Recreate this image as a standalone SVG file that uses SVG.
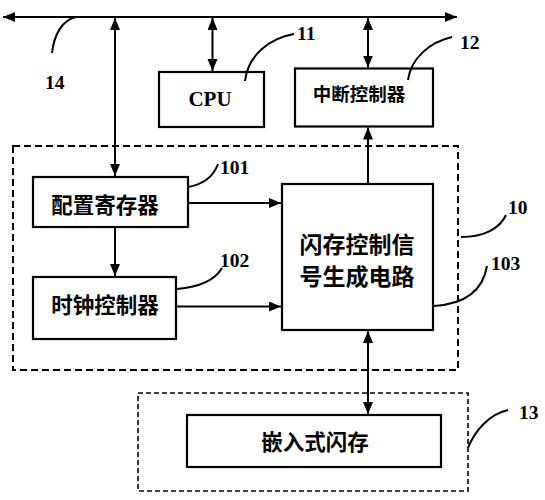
<svg xmlns="http://www.w3.org/2000/svg" width="545" height="500" viewBox="0 0 545 500">
<style>
.box{fill:#fff;stroke:#000;stroke-width:2.2}
.dash1{fill:none;stroke:#000;stroke-width:2;stroke-dasharray:7 4}
.dash2{fill:none;stroke:#000;stroke-width:1.6;stroke-dasharray:5 3}
.ln{fill:none;stroke:#000;stroke-width:2}
.ld{fill:none;stroke:#000;stroke-width:2}
.cjk{font-family:"Noto Sans CJK SC","Noto Sans CJK JP",sans-serif;font-weight:bold;fill:#000;text-anchor:middle;dominant-baseline:central}
.num{font-family:"Liberation Serif","Times New Roman",serif;font-weight:bold;font-size:19.5px;fill:#000}
</style>
<defs>
<marker id="ah" markerUnits="userSpaceOnUse" markerWidth="14" markerHeight="12" refX="12" refY="5" orient="auto-start-reverse">
<path d="M0,0 L12,5 L0,10 Z" fill="#000"/>
</marker>
</defs>
<rect id="group10" class="dash1" x="13" y="146" width="445" height="224"/>
<rect id="group13" class="dash2" x="138" y="393" width="330" height="98"/>
<g id="cpu">
<rect class="box" x="159" y="72" width="105" height="55"/>
<text x="210" y="105.5" font-family="'Liberation Serif','Times New Roman',serif" font-weight="bold" font-size="21" text-anchor="middle">CPU</text>
</g>
<g id="intc">
<rect class="box" x="295" y="68.5" width="138" height="58"/>
<text class="cjk" x="359" y="93" font-size="18.5">中断控制器</text>
</g>
<g id="cfg">
<rect class="box" x="33" y="177" width="155" height="50"/>
<text class="cjk" x="105" y="203" font-size="21.5">配置寄存器</text>
</g>
<g id="clk">
<rect class="box" x="33" y="277" width="143" height="62"/>
<text class="cjk" x="105" y="303" font-size="21.5">时钟控制器</text>
</g>
<g id="flashctl">
<rect class="box" x="282" y="184" width="151" height="146"/>
<text class="cjk" x="357" y="243" font-size="23">闪存控制信</text>
<text class="cjk" x="357" y="275" font-size="23">号生成电路</text>
</g>
<g id="eflash">
<rect class="box" x="187" y="415" width="254" height="52"/>
<text class="cjk" x="315" y="440" font-size="21.5">嵌入式闪存</text>
</g>
<g id="connectors">
<line class="ln" x1="3" y1="17" x2="457" y2="17" marker-start="url(#ah)" marker-end="url(#ah)"/>
<line class="ln" x1="115" y1="18" x2="115" y2="176" marker-start="url(#ah)" marker-end="url(#ah)"/>
<line class="ln" x1="212.5" y1="18" x2="212.5" y2="71" marker-start="url(#ah)" marker-end="url(#ah)"/>
<line class="ln" x1="368" y1="18" x2="368" y2="67.5" marker-start="url(#ah)" marker-end="url(#ah)"/>
<line class="ln" x1="115" y1="228" x2="115" y2="276" marker-end="url(#ah)"/>
<line class="ln" x1="189" y1="203" x2="281" y2="203" marker-end="url(#ah)"/>
<line class="ln" x1="177" y1="306.5" x2="281" y2="306.5" marker-end="url(#ah)"/>
<line class="ln" x1="368" y1="183" x2="368" y2="127.5" marker-end="url(#ah)"/>
<line class="ln" x1="368" y1="331" x2="368" y2="414" marker-start="url(#ah)" marker-end="url(#ah)"/>
</g>
<g id="leaders">
<path class="ld" d="M52,53 C54,35 62,20 76,17"/>
<path class="ld" d="M245,81 C248,55 270,38 294,34"/>
<path class="ld" d="M408,80 C411,58 430,42 452,37"/>
<path class="ld" d="M188,187 C205,184 214,175 218,164"/>
<path class="ld" d="M177,289 C200,287 215,280 222,268"/>
<path class="ld" d="M461,237 C485,237 500,228 506,215"/>
<path class="ld" d="M434,306 C465,304 483,290 487,266"/>
<path class="ld" d="M468,448 C475,430 490,414 508,410"/>
</g>
<g id="labels">
<text class="num" x="45" y="88.5">14</text>
<text class="num" x="297" y="40">11</text>
<text class="num" x="460" y="48.5">12</text>
<text class="num" x="220" y="173.5">101</text>
<text class="num" x="220" y="267">102</text>
<text class="num" x="508" y="213.5">10</text>
<text class="num" x="491" y="270">103</text>
<text class="num" x="519" y="419">13</text>
</g>
</svg>
